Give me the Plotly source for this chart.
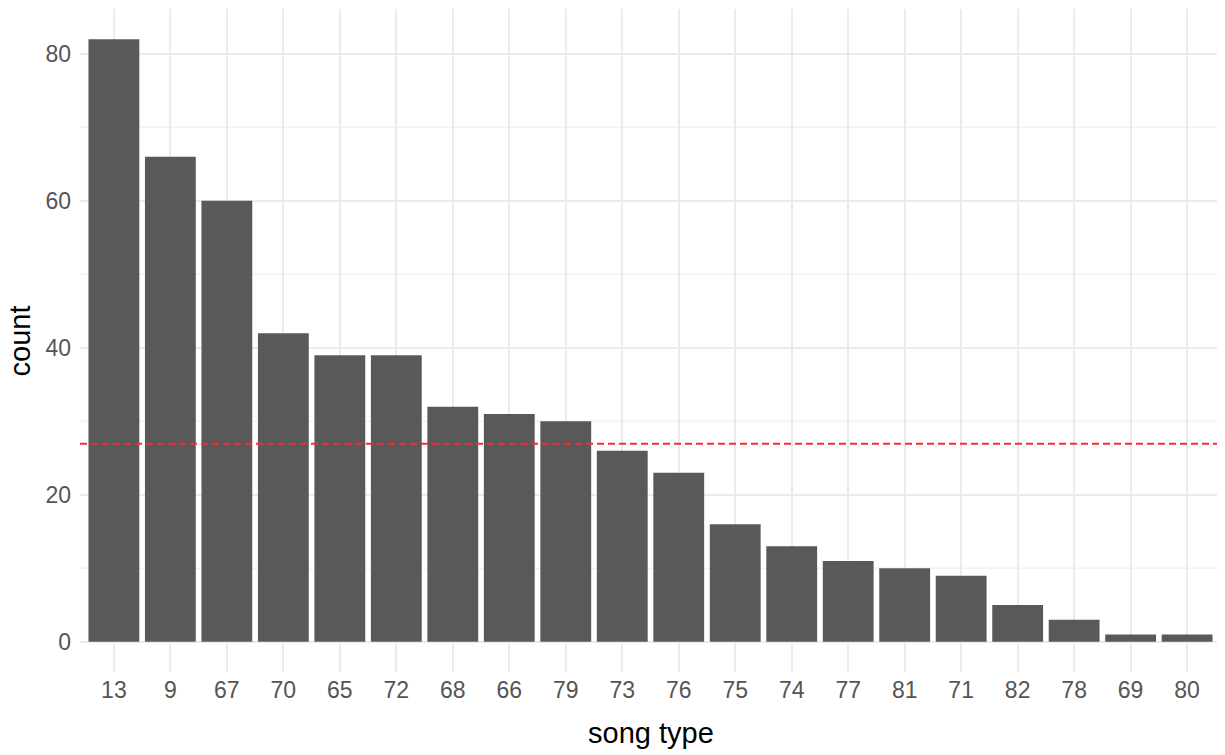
import plotly.graph_objects as go

song_types = ["13", "9", "67", "70", "65", "72", "68", "66", "79", "73",
              "76", "75", "74", "77", "81", "71", "82", "78", "69", "80"]
counts = [82, 66, 60, 42, 39, 39, 32, 31, 30, 26,
          23, 16, 13, 11, 10, 9, 5, 3, 1, 1]
mean_count = sum(counts) / len(counts)

fig = go.Figure()
fig.add_trace(go.Bar(x=song_types, y=counts, marker_color="#595959",
                     marker_line_width=0, width=0.9))

# minor y grid
for v in [10, 30, 50, 70]:
    fig.add_shape(type="line", xref="paper", x0=0, x1=1, yref="y", y0=v, y1=v,
                  line=dict(color="#f2f2f2", width=1.5), layer="below")

fig.add_shape(type="line", xref="paper", x0=0, x1=1, yref="y",
              y0=mean_count, y1=mean_count,
              line=dict(color="#f03030", width=2, dash="7px,4px"), layer="above")

fig.add_annotation(text="song type", xref="paper", yref="paper", x=0.5, y=-0.092,
                   showarrow=False, xanchor="center", yanchor="middle",
                   font=dict(size=29, color="black"))
fig.add_annotation(text="count", xref="paper", yref="paper", x=-0.0526, y=0.5,
                   showarrow=False, xanchor="center", yanchor="middle", textangle=-90,
                   font=dict(size=29, color="black"))

fig.update_layout(
    width=1225, height=755,
    margin=dict(l=72, r=12, t=1, b=91),
    plot_bgcolor="white", paper_bgcolor="white",
    showlegend=False,
    font=dict(family="Liberation Sans, Arial, sans-serif"),
    bargap=0.1,
)
fig.update_xaxes(
    type="category", range=[-0.6, 19.6], automargin=False,
    showgrid=True, gridcolor="#ebebeb", gridwidth=2,
    tickfont=dict(size=23, color="#555555"),
    ticks="", ticklen=0, showline=False, zeroline=False,
    ticklabelstandoff=2,
)
fig.update_yaxes(
    range=[-4.1, 86.1], tickvals=[0, 20, 40, 60, 80], automargin=False,
    showgrid=True, gridcolor="#ebebeb", gridwidth=2,
    tickfont=dict(size=23, color="#555555"),
    ticks="", zeroline=False, showline=False,
    ticklabelstandoff=8,
)

fig.write_html("out.html")
